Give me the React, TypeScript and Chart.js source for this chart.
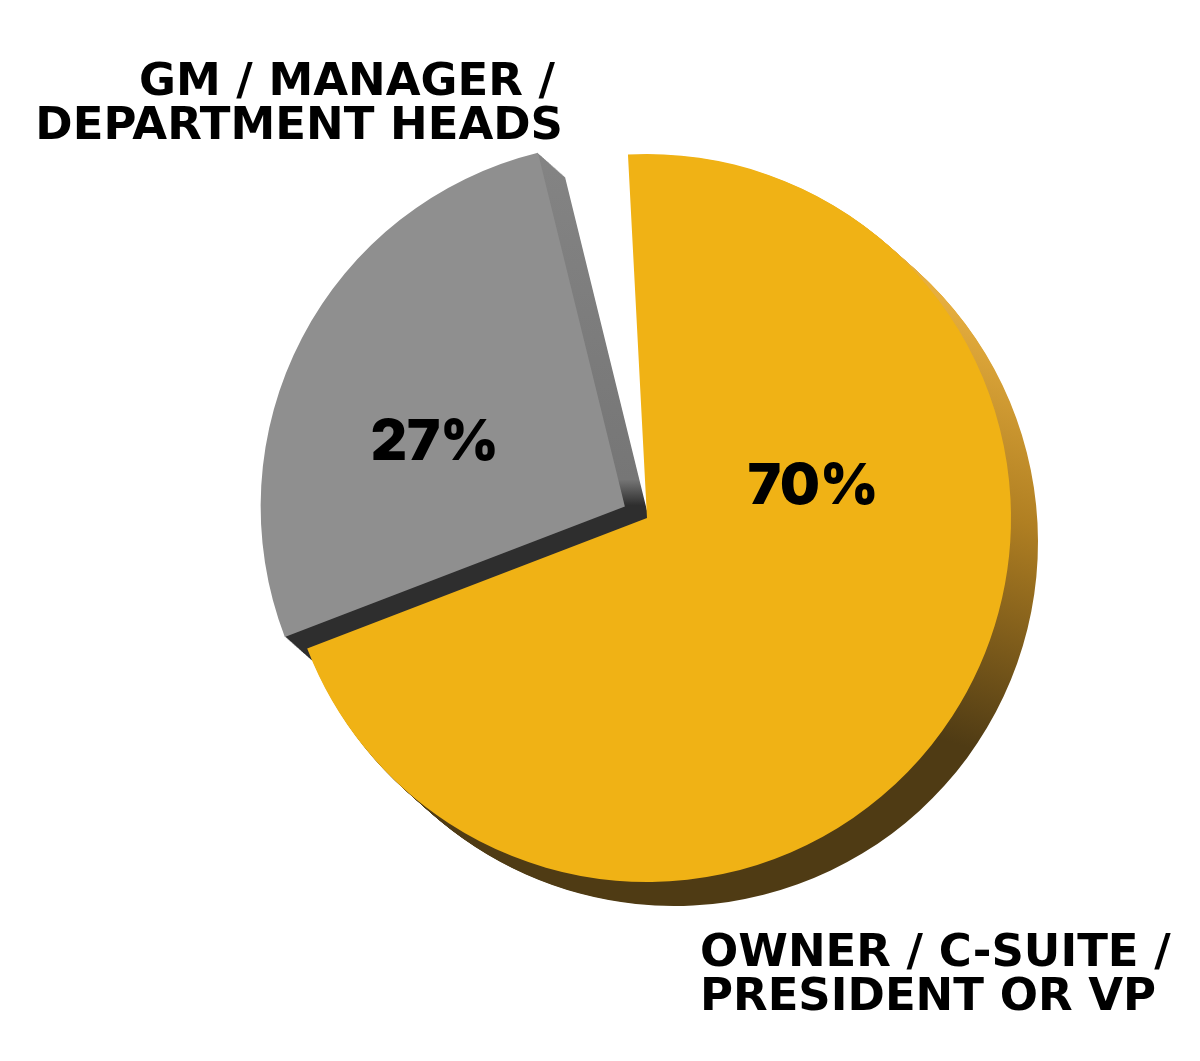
import React, { useEffect, useRef } from "react";
import { Chart, registerables } from "chart.js";

Chart.register(...registerables);

const categories = [
  "OWNER / C-SUITE / PRESIDENT OR VP",
  "GM / MANAGER / DEPARTMENT HEADS",
  "OTHER",
];
const values = [70, 27, 3];
const faceColors = ["#F0B215", "#8F8F8F", "rgba(0,0,0,0)"];
const topLabelLines = ["GM / MANAGER /", "DEPARTMENT HEADS"];
const bottomLabelLines = ["OWNER / C-SUITE /", "PRESIDENT OR VP"];

const W = 1200;
const H = 1061;
const DEPTH_X = 27;
const DEPTH_Y = 24;

function arcCenter(arc: any) {
  const p = arc.getProps(["x", "y", "startAngle", "endAngle", "outerRadius", "circumference"], true);
  const offset = (arc.options.offset || 0) / 4;
  const half = (p.startAngle + p.endAngle) / 2;
  return {
    cx: p.x + Math.cos(half) * offset,
    cy: p.y + Math.sin(half) * offset,
    r: p.outerRadius,
    s: p.startAngle,
    e: p.endAngle,
  };
}

const extrudePlugin = {
  id: "extrude",
  beforeDatasetsDraw(chart: any) {
    const ctx: CanvasRenderingContext2D = chart.ctx;
    const meta = chart.getDatasetMeta(0);
    meta.data.forEach((arc: any, i: number) => {
      if (i > 1) return;
      const { cx, cy, r, s, e } = arcCenter(arc);
      let fill: CanvasGradient;
      if (i === 0) {
        fill = ctx.createLinearGradient(cx + 360, cy - 200, cx + 230, cy + 200);
        fill.addColorStop(0, "#E6AE3E");
        fill.addColorStop(0.45, "#B07F22");
        fill.addColorStop(1, "#4F3B14");
      } else {
        fill = ctx.createLinearGradient(0, cy - 360, 0, cy + 10);
        fill.addColorStop(0, "#848484");
        fill.addColorStop(0.9, "#767676");
        fill.addColorStop(0.97, "#2E2E2E");
        fill.addColorStop(1, "#2E2E2E");
      }
      ctx.save();
      ctx.fillStyle = fill;
      const steps = 28;
      for (let k = 1; k <= steps; k++) {
        const dx = (DEPTH_X * k) / steps;
        const dy = (DEPTH_Y * k) / steps;
        ctx.beginPath();
        ctx.moveTo(cx + dx, cy + dy);
        ctx.arc(cx + dx, cy + dy, r, s, e);
        ctx.closePath();
        ctx.fill();
      }
      ctx.restore();
    });
  },
  afterDraw(chart: any) {
    const ctx: CanvasRenderingContext2D = chart.ctx;
    const meta = chart.getDatasetMeta(0);
    ctx.save();
    ctx.fillStyle = "#000000";
    ctx.font = "900 56px Inter, Roboto, sans-serif";
    ctx.textAlign = "center";
    ctx.textBaseline = "alphabetic";
    const pctOffsets = [
      [166, -14],
      [-190, -46],
    ];
    meta.data.forEach((arc: any, i: number) => {
      if (i > 1) return;
      const { cx, cy } = arcCenter(arc);
      ctx.fillText(values[i] + "%", cx + pctOffsets[i][0], cy + pctOffsets[i][1]);
    });
    ctx.font = "bold 45px 'DejaVu Sans', sans-serif";
    ctx.textAlign = "right";
    ctx.fillText(topLabelLines[0], 555, 95);
    ctx.fillText(topLabelLines[1], 563, 139);
    ctx.textAlign = "left";
    ctx.fillText(bottomLabelLines[0], 700, 966);
    ctx.fillText(bottomLabelLines[1], 700, 1010);
    ctx.restore();
  },
};

export default function App() {
  const ref = useRef<HTMLCanvasElement>(null);
  useEffect(() => {
    if (!ref.current) return;
    const chart = new Chart(ref.current, {
      type: "pie",
      data: {
        labels: categories,
        datasets: [
          {
            data: values,
            backgroundColor: faceColors,
            borderWidth: 0,
            offset: [0, 100, 0],
            hoverOffset: 0,
          },
        ],
      },
      options: {
        responsive: false,
        animation: false,
        rotation: -3,
        radius: 364,
        layout: { padding: { left: 94, right: 0, top: 0, bottom: 25 } },
        plugins: {
          legend: { display: false },
          tooltip: { enabled: false },
        },
        events: [],
      },
      plugins: [extrudePlugin],
    });
    return () => chart.destroy();
  }, []);
  return (
    <div style={{ position: "fixed", left: 0, top: 0, width: W, height: H, background: "#ffffff" }}>
      <canvas ref={ref} width={W} height={H} style={{ display: "block", width: W, height: H }} />
    </div>
  );
}
